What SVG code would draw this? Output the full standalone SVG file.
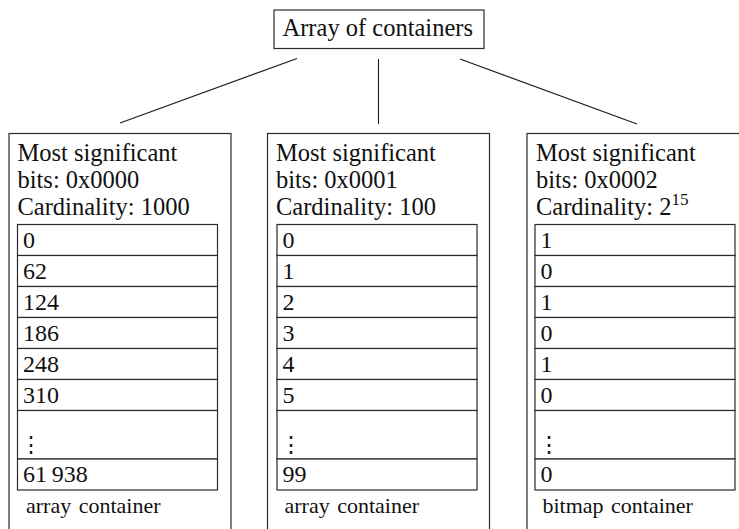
<svg xmlns="http://www.w3.org/2000/svg" width="739" height="529" viewBox="0 0 739 529">
<style>
.box{fill:#fff;stroke:#2a2a2a;stroke-width:1.2}
.cell{fill:#fff;stroke:#2a2a2a;stroke-width:1.2}
.edge{stroke:#1a1a1a;stroke-width:1.1;fill:none}
.t{font-family:"Liberation Serif","Times New Roman",serif;font-size:24.5px;fill:#111}
.v{font-family:"Liberation Serif","Times New Roman",serif;font-size:24px;fill:#111}
.d{font-family:"DejaVu Serif","Liberation Serif",serif;font-size:22px;fill:#111}
.l{font-family:"Liberation Serif","Times New Roman",serif;font-size:22px;fill:#111;word-spacing:2px}
.sup{font-size:17px}
</style>
<rect width="739" height="529" fill="#fff"/>
<g id="root">
<rect class="box" x="274" y="10" width="210" height="38.5"/>
<text class="t" x="282.5" y="36">Array of containers</text>
</g>
<g id="connectors">
<line class="edge" x1="297" y1="58.5" x2="120" y2="123"/>
<line class="edge" x1="378.5" y1="59" x2="378.5" y2="124"/>
<line class="edge" x1="460" y1="59" x2="637" y2="124"/>
</g>
<g id="c0">
<rect class="box" x="9" y="133.5" width="222" height="410"/>
<text class="t" x="17.5" y="161">Most significant</text>
<text class="t" x="17.5" y="188">bits: 0x0000</text>
<text class="t" x="17.5" y="215">Cardinality: 1000</text>
<rect class="cell" x="17.5" y="224.5" width="200" height="31"/>
<rect class="cell" x="17.5" y="255.5" width="200" height="31"/>
<rect class="cell" x="17.5" y="286.5" width="200" height="31"/>
<rect class="cell" x="17.5" y="317.5" width="200" height="31"/>
<rect class="cell" x="17.5" y="348.5" width="200" height="31"/>
<rect class="cell" x="17.5" y="379.5" width="200" height="31"/>
<rect class="cell" x="17.5" y="410.5" width="200" height="48.5"/>
<rect class="cell" x="17.5" y="459" width="200" height="31"/>
<text class="v" x="23" y="247.5">0</text>
<text class="v" x="23" y="278.5">62</text>
<text class="v" x="23" y="309.5">124</text>
<text class="v" x="23" y="340.5">186</text>
<text class="v" x="23" y="371.5">248</text>
<text class="v" x="23" y="402.5">310</text>
<text class="d" x="20" y="452">⋮</text>
<text class="v" x="23" y="482">61&#8201;938</text>
<text class="l" x="26" y="513">array container</text>
</g>
<g id="c1">
<rect class="box" x="267.5" y="133.5" width="222" height="410"/>
<text class="t" x="276" y="161">Most significant</text>
<text class="t" x="276" y="188">bits: 0x0001</text>
<text class="t" x="276" y="215">Cardinality: 100</text>
<rect class="cell" x="277" y="224.5" width="200" height="31"/>
<rect class="cell" x="277" y="255.5" width="200" height="31"/>
<rect class="cell" x="277" y="286.5" width="200" height="31"/>
<rect class="cell" x="277" y="317.5" width="200" height="31"/>
<rect class="cell" x="277" y="348.5" width="200" height="31"/>
<rect class="cell" x="277" y="379.5" width="200" height="31"/>
<rect class="cell" x="277" y="410.5" width="200" height="48.5"/>
<rect class="cell" x="277" y="459" width="200" height="31"/>
<text class="v" x="282.5" y="247.5">0</text>
<text class="v" x="282.5" y="278.5">1</text>
<text class="v" x="282.5" y="309.5">2</text>
<text class="v" x="282.5" y="340.5">3</text>
<text class="v" x="282.5" y="371.5">4</text>
<text class="v" x="282.5" y="402.5">5</text>
<text class="d" x="279.5" y="452">⋮</text>
<text class="v" x="282.5" y="482">99</text>
<text class="l" x="284.5" y="513">array container</text>
</g>
<g id="c2">
<rect class="box" x="527" y="133.5" width="222" height="410"/>
<text class="t" x="536" y="161">Most significant</text>
<text class="t" x="536" y="188">bits: 0x0002</text>
<text class="t" x="536" y="215">Cardinality: 2<tspan class="sup" dy="-10">15</tspan></text>
<rect class="cell" x="535" y="224.5" width="200" height="31"/>
<rect class="cell" x="535" y="255.5" width="200" height="31"/>
<rect class="cell" x="535" y="286.5" width="200" height="31"/>
<rect class="cell" x="535" y="317.5" width="200" height="31"/>
<rect class="cell" x="535" y="348.5" width="200" height="31"/>
<rect class="cell" x="535" y="379.5" width="200" height="31"/>
<rect class="cell" x="535" y="410.5" width="200" height="48.5"/>
<rect class="cell" x="535" y="459" width="200" height="31"/>
<text class="v" x="540.5" y="247.5">1</text>
<text class="v" x="540.5" y="278.5">0</text>
<text class="v" x="540.5" y="309.5">1</text>
<text class="v" x="540.5" y="340.5">0</text>
<text class="v" x="540.5" y="371.5">1</text>
<text class="v" x="540.5" y="402.5">0</text>
<text class="d" x="537.5" y="452">⋮</text>
<text class="v" x="540.5" y="482">0</text>
<text class="l" x="542.5" y="513">bitmap container</text>
</g>
</svg>
